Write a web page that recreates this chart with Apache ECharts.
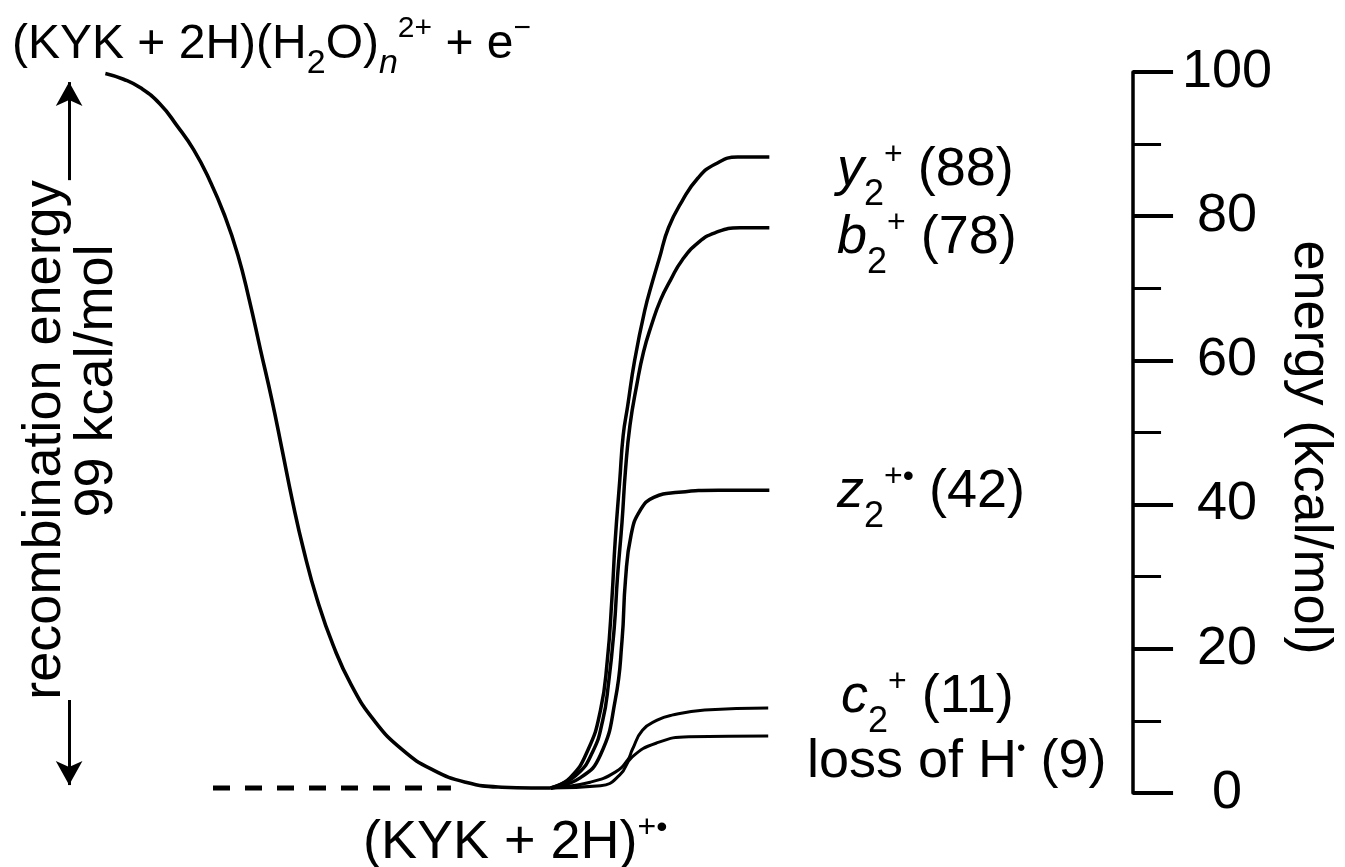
<!DOCTYPE html>
<html>
<head>
<meta charset="utf-8">
<script src="https://cdn.jsdelivr.net/npm/echarts@6/dist/echarts.min.js"></script>
<style>
html,body{margin:0;padding:0;background:#fff;}
#main{width:1345px;height:867px;}
</style>
</head>
<body>
<div id="main"></div>
<script>
// ---- data (reaction coordinate in arbitrary units, energy in kcal/mol) ----
var recombX = [9.3, 10.9, 12.4, 14.1, 15.6, 17.1, 18.5, 19.8, 21.0, 22.0, 23.0, 24.0, 24.9, 25.8, 26.8, 28.0, 29.4, 31.0, 33.0, 35.5, 38.2, 41.1, 44.3, 46.9, 48.6];
var recombE = [99.8, 99.0, 97.8, 95.6, 92.6, 89.2, 85.0, 80.2, 74.6, 68.4, 61.4, 54.5, 47.6, 40.6, 33.7, 26.8, 20.5, 15.0, 10.1, 6.0, 3.2, 1.5, 0.8, 0.7, 0.7];

var y2X = [48.6, 50.3, 51.9, 53.0, 53.6, 54.0, 54.3, 54.7, 55.0, 55.4, 56.0, 56.9, 57.6, 58.2, 59.0, 60.2, 61.6, 63.1, 65.1, 67.9];
var y2E = [0.7, 2.1, 6.0, 11.5, 18.4, 26.8, 35.1, 43.4, 49.6, 53.7, 59.9, 66.9, 71.0, 74.2, 78.4, 82.1, 85.3, 87.2, 88.2, 88.2];

var b2X = [48.6, 50.8, 52.3, 53.2, 53.7, 54.2, 54.5, 54.9, 55.2, 55.6, 56.2, 56.8, 57.5, 58.3, 59.2, 60.2, 61.6, 63.1, 65.3, 67.9];
var b2E = [0.7, 2.4, 5.7, 10.1, 15.1, 22.7, 30.0, 37.6, 44.7, 51.0, 56.6, 61.2, 64.9, 68.4, 71.2, 73.9, 76.3, 77.7, 78.4, 78.4];

var z2X = [48.6, 51.2, 53.0, 54.3, 54.9, 55.2, 55.7, 56.5, 57.7, 59.9, 63.4, 67.9];
var z2E = [0.7, 2.1, 5.3, 12.9, 21.2, 29.5, 35.8, 39.2, 41.0, 41.7, 42.0, 42.0];

var c2X = [48.6, 52.1, 54.3, 55.4, 55.8, 56.7, 58.0, 59.3, 62.2, 67.8];
var c2E = [0.7, 1.5, 2.9, 4.6, 6.0, 8.7, 10.1, 10.8, 11.5, 11.8];

var lossHX = [48.6, 53.0, 54.7, 55.8, 57.9, 60.8, 67.8];
var lossHE = [0.7, 1.0, 2.5, 5.0, 6.9, 7.8, 7.9];

var baselineX = [18.8, 39.8];
var baselineE = [0.7, 0.7];

var recombArrowX = 6.1;
var recombArrowTop = [85, 98.6];
var recombArrowBottom = [12.9, 1.1];

var energyTicks = [0, 20, 40, 60, 80, 100];

// ---- chart ----
function pairs(xs, ys) { return xs.map(function (x, i) { return [x, ys[i]]; }); }

var FONT = 'Liberation Sans, Arial, Helvetica, sans-serif';
var FS = 54;
var FS_TOP = 48;

function curve(name, xs, ys, w) {
  return {
    name: name, type: 'line', data: pairs(xs, ys),
    smooth: 0.5, showSymbol: false, symbol: 'none',
    lineStyle: { color: '#000', width: w || 3.5 },
    silent: true, z: 3
  };
}

// sub/superscript shifts via padding (middle-aligned token shifts by (pb - pt)/2)
var richStyles = {
  i: { fontSize: FS, fontStyle: 'italic', fontFamily: FONT, color: '#000' },
  sub: { fontSize: 36, fontFamily: FONT, color: '#000', padding: [50, 0, 0, 0] },
  sup: { fontSize: 32, fontFamily: FONT, color: '#000', padding: [0, 0, 30, 0] },
  dot: { fontSize: 24, fontFamily: FONT, color: '#000', padding: [0, 0, 26, 0] },
  tsub: { fontSize: 34, fontFamily: FONT, color: '#000', padding: [38, 0, 0, 0] },
  tsubi: { fontSize: 34, fontStyle: 'italic', fontFamily: FONT, color: '#000', padding: [38, 0, 0, 0] },
  tsup: { fontSize: 30, fontFamily: FONT, color: '#000', padding: [0, 0, 32, 0] }
};

function label(text, x, y, opts) {
  opts = opts || {};
  var fs = opts.fs || FS;
  return {
    type: 'text', x: x, y: y, rotation: opts.rotation || 0, silent: true, z: 10,
    style: {
      text: text, fontSize: fs, fontFamily: FONT, fill: '#000',
      align: opts.align || 'left', verticalAlign: 'middle',
      textAlign: opts.align || 'left', textVerticalAlign: 'middle',
      lineHeight: 80, rich: richStyles
    }
  };
}

var chart = echarts.init(document.getElementById('main'), null, { renderer: 'canvas' });
chart.setOption({
  animation: false,
  backgroundColor: '#fff',
  grid: { left: 0, right: 193, top: 72, bottom: 74, containLabel: false },
  xAxis: { type: 'value', min: 0, max: 100, show: false },
  yAxis: {
    type: 'value', position: 'right', min: 0, max: 100, interval: 20,
    name: 'energy (kcal/mol)', nameLocation: 'middle', nameRotate: -90, nameGap: 132,
    nameTextStyle: { fontSize: FS, fontFamily: FONT, color: '#000', padding: [0, 0, 0, 30] },
    axisLine: { show: true, onZero: false, lineStyle: { color: '#000', width: 3.5 } },
    axisTick: { show: true, length: 40, lineStyle: { color: '#000', width: 4 } },
    minorTick: { show: true, splitNumber: 2, length: 28, lineStyle: { color: '#000', width: 3 } },
    splitLine: { show: false },
    axisLabel: {
      margin: 94, align: 'center', fontSize: FS, fontFamily: FONT, color: '#000',
      formatter: function (v) { return energyTicks.indexOf(v) >= 0 ? String(v) : ''; }
    }
  },
  series: [
    curve('recombination', recombX, recombE, 3.6),
    curve('y2+', y2X, y2E, 3.5),
    curve('b2+', b2X, b2E, 3.5),
    curve('z2+•', z2X, z2E, 3.5),
    curve('c2+', c2X, c2E, 3),
    curve('loss of H•', lossHX, lossHE, 3),
    {
      name: 'reference', type: 'line', data: pairs(baselineX, baselineE),
      showSymbol: false, symbol: 'none', silent: true,
      lineStyle: { color: '#000', width: 5, type: [17, 15] },
      markLine: {
        silent: true, animation: false,
        symbol: ['none', 'arrow'], symbolSize: [20, 24],
        label: { show: false },
        lineStyle: { color: '#000', width: 3, type: 'solid' },
        data: [
          [{ coord: [recombArrowX, recombArrowTop[0]] }, { coord: [recombArrowX, recombArrowTop[1]] }],
          [{ coord: [recombArrowX, recombArrowBottom[0]] }, { coord: [recombArrowX, recombArrowBottom[1]] }]
        ]
      }
    }
  ],
  graphic: [
    label('(KYK + 2H)(H{tsub|2}O){tsubi|n}{tsup|2+} + e{tsup|\u2212}', 12, 45, { fs: FS_TOP }),
    label('{i|y}{sub|2}{sup|+} (88)', 837, 170),
    label('{i|b}{sub|2}{sup|+} (78)', 837, 238),
    label('{i|z}{sub|2}{sup|+\u2022} (42)', 837, 492),
    label('{i|c}{sub|2}{sup|+} (11)', 841, 697),
    label('loss of H{dot|\u2022} (9)', 807, 762),
    label('(KYK + 2H){sup|+\u2022}', 363, 843),
    label('recombination energy', 45, 440, { rotation: Math.PI / 2, align: 'center' }),
    label('99 kcal/mol', 97, 381, { rotation: Math.PI / 2, align: 'center' })
  ]
});
</script>
</body>
</html>
